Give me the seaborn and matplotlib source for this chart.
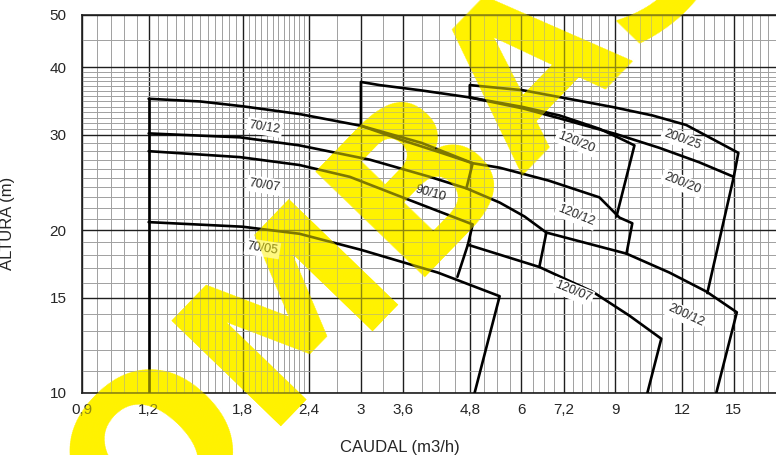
import numpy as np
import pandas as pd
import seaborn as sns
import matplotlib.pyplot as plt
from matplotlib import font_manager
from matplotlib.ticker import NullFormatter

# caudal (m3/h) / altura (m), each line ends with its limit drop
q_70_left = [1.2, 1.2]
h_70_left = [10, 35.0]

q_70_12 = [1.2, 1.5, 1.8, 2.3, 3.0, 3.6, 4.2, 4.86, 4.73]
h_70_12 = [35.0, 34.6, 33.9, 32.8, 31.2, 29.3, 27.9, 26.6, 23.9]

q_90_10 = [1.2, 1.78, 2.3, 3.12, 4.04, 4.73, 5.46, 6.08, 6.68]
h_90_10 = [30.2, 29.7, 28.7, 27.0, 25.1, 23.9, 22.5, 21.2, 19.8]

q_70_07 = [1.2, 1.78, 2.3, 2.86, 3.55, 4.86, 4.76, 4.55]
h_70_07 = [28.0, 27.3, 26.4, 25.1, 23.1, 20.5, 18.8, 16.4]

q_70_05 = [1.2, 1.8, 2.3, 3.0, 4.18, 5.46, 4.90]
h_70_05 = [20.7, 20.3, 19.7, 18.4, 16.7, 15.1, 10]

q_120_20 = [3.0, 3.0, 3.25, 3.87, 4.80, 6.03, 7.07, 8.40, 9.16, 9.77, 9.04]
h_120_20 = [31.2, 37.6, 37.1, 36.3, 35.2, 33.8, 32.6, 30.8, 29.6, 28.7, 21.2]

q_120_12 = [3.0, 3.9, 4.86, 5.46, 6.75, 8.4, 9.16, 9.68, 9.44]
h_120_12 = [31.2, 29.0, 26.6, 26.1, 24.7, 23.0, 21.1, 20.6, 18.1]

q_120_07 = [4.76, 6.48, 8.15, 9.56, 10.97, 10.33]
h_120_07 = [18.8, 17.1, 15.4, 13.9, 12.6, 10]

q_200_25 = [4.80, 4.80, 6.03, 8.88, 10.56, 12.22, 15.3, 15.0]
h_200_25 = [35.2, 37.1, 36.3, 33.8, 32.6, 31.3, 27.8, 25.1]

q_200_20 = [4.80, 6.03, 7.07, 9.04, 10.88, 12.93, 15.0, 13.38]
h_200_20 = [35.2, 33.6, 32.2, 30.1, 28.4, 26.7, 25.1, 15.3]

q_200_12 = [6.48, 6.68, 9.44, 11.36, 13.33, 15.2, 13.91]
h_200_12 = [17.1, 19.8, 18.1, 16.7, 15.4, 14.1, 10]

# curve names and where they are written
label_text = ['70/12', '70/07', '70/05', '90/10', '120/20', '120/12', '120/07',
              '200/25', '200/20', '200/12']
label_q = [1.98, 1.98, 1.96, 4.05, 7.6, 7.6, 7.48, 12.0, 12.0, 12.2]
label_h = [31.0, 24.2, 18.5, 23.4, 29.1, 21.3, 15.4, 29.4, 24.4, 13.9]
label_rot = [-9, -9, -9, -16, -22, -22, -22, -20, -22, -25]
label_boxed = [True, True, True, False, True, True, True, True, True, True]

x_ticks = [0.9, 1.2, 1.8, 2.4, 3, 3.6, 4.8, 6, 7.2, 9, 12, 15]
x_tick_labels = ['0,9', '1,2', '1,8', '2,4', '3', '3,6', '4,8', '6', '7,2', '9', '12', '15']
y_ticks = [10, 15, 20, 30, 40, 50]

x_minor = ([0.96, 1.02, 1.08, 1.14]
           + list(np.arange(1.25, 1.78, 0.05)) + list(np.arange(1.85, 2.38, 0.05))
           + [2.7, 3.3, 3.9, 4.2, 4.5, 5.1, 5.4, 5.7, 6.3, 6.6, 6.9,
              7.5, 7.8, 8.1, 8.4, 8.7, 9.5, 10, 10.5, 11, 11.5,
              12.6, 13.2, 13.8, 14.4, 15.6, 16.2, 16.8, 17.4])
y_minor = list(range(11, 15)) + list(range(16, 20)) + list(range(21, 30)) \
    + list(np.linspace(30, 40, 14)[1:-1]) + [45]

sns.set_style('white')
names = {f.name for f in font_manager.fontManager.ttflist}
narrow = 'Liberation Sans Narrow' if 'Liberation Sans Narrow' in names else 'Liberation Sans'
plt.rcParams['font.family'] = [narrow, 'DejaVu Sans']

fig = plt.figure(figsize=(7.76, 4.55), dpi=100)
ax = fig.add_axes([82 / 776, 1 - 393 / 455, 694 / 776, 378 / 455])
ax.set_facecolor('none')

# watermark: solid layer under the chart, thin layer on top so lines look olive
wm = dict(s='BOMBAS', fontsize=150, fontweight='bold', family='DejaVu Sans',
          color='#fff200', rotation=46, rotation_mode='anchor', ha='center', va='center')
fig.text(340 / 776, 1 - 262 / 455, zorder=-1, **wm)
fig.text(340 / 776, 1 - 262 / 455, zorder=10, alpha=0.5, **wm)

curves = [(q_70_left, h_70_left), (q_70_12, h_70_12), (q_90_10, h_90_10),
          (q_70_07, h_70_07), (q_70_05, h_70_05), (q_120_20, h_120_20),
          (q_120_12, h_120_12), (q_120_07, h_120_07), (q_200_25, h_200_25),
          (q_200_20, h_200_20), (q_200_12, h_200_12)]
for q, h in curves:
    sns.lineplot(x=q, y=h, ax=ax, color='black', linewidth=1.9, sort=False,
                 estimator=None, zorder=3)

ax.set_xscale('log')
ax.set_yscale('log')
ax.set_xlim(0.9, 18)
ax.set_ylim(10, 50)
ax.set_xticks(x_ticks, x_tick_labels)
ax.set_xticks(x_minor, minor=True)
ax.set_yticks(y_ticks, [str(v) for v in y_ticks])
ax.set_yticks(y_minor, minor=True)
ax.xaxis.set_minor_formatter(NullFormatter())
ax.yaxis.set_minor_formatter(NullFormatter())
ax.set_axisbelow(True)
ax.grid(True, which='major', color='#1e1e1e', linewidth=1.0)
ax.grid(True, which='minor', color='#a0a0a0', linewidth=0.7)
ax.tick_params(axis='x', which='both', length=0, pad=7, labelsize=11)
ax.tick_params(axis='y', which='major', length=9, width=1, color='#222222', pad=2, labelsize=11)
ax.tick_params(axis='y', which='minor', length=0)
for s in ['left', 'top', 'bottom']:
    ax.spines[s].set_color('#1e1e1e')
    ax.spines[s].set_linewidth(1.2)
ax.spines['right'].set_visible(False)

for t, q, h, r, boxed in zip(label_text, label_q, label_h, label_rot, label_boxed):
    box = dict(facecolor='white', edgecolor='none', pad=1.5) if boxed else None
    ax.text(q, h, t, rotation=r, ha='center', va='center', fontsize=9,
            family=['Liberation Sans', 'DejaVu Sans'], zorder=4, bbox=box)

ax.set_xlabel('CAUDAL (m3/h)', fontsize=12)
ax.set_ylabel('ALTURA (m)', fontsize=12)
ax.xaxis.set_label_coords(0.458, -0.125)
ax.yaxis.set_label_coords(-0.097, 0.45)

fig.savefig('out.png', dpi=100)
